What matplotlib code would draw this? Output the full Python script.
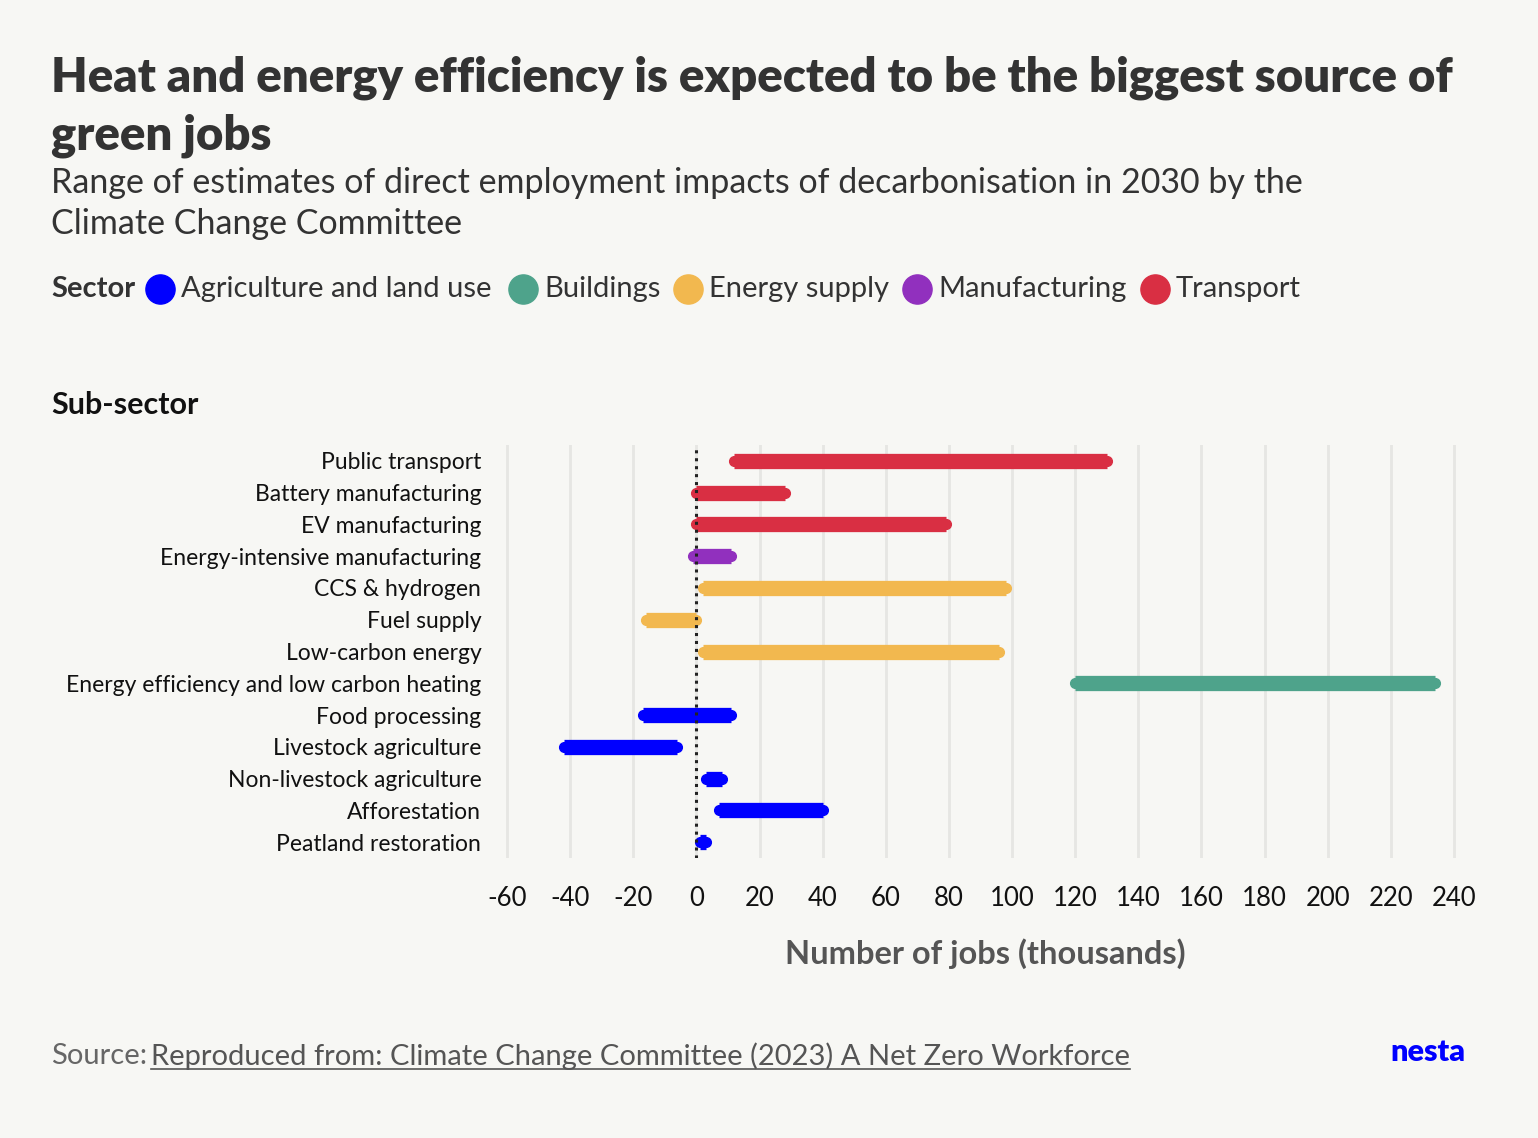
import matplotlib
matplotlib.use("Agg")
import matplotlib.pyplot as plt
from matplotlib.lines import Line2D

plt.rcParams['font.family'] = ['Lato', 'DejaVu Sans']

BG = '#f7f7f4'
TEXT = '#333333'
SECTOR_COLORS = {
    'Agriculture and land use': '#0000ff',
    'Buildings': '#4ea38b',
    'Energy supply': '#f2b84f',
    'Manufacturing': '#9130be',
    'Transport': '#d92f43',
}

# --- data (thousands of jobs, 2030) ---
subsectors = ['Public transport', 'Battery manufacturing', 'EV manufacturing',
              'Energy-intensive manufacturing', 'CCS & hydrogen', 'Fuel supply',
              'Low-carbon energy', 'Energy efficiency and low carbon heating',
              'Food processing', 'Livestock agriculture', 'Non-livestock agriculture',
              'Afforestation', 'Peatland restoration']
sectors = ['Transport', 'Transport', 'Transport', 'Manufacturing', 'Energy supply',
           'Energy supply', 'Energy supply', 'Buildings',
           'Agriculture and land use', 'Agriculture and land use',
           'Agriculture and land use', 'Agriculture and land use',
           'Agriculture and land use']
low = [12, 0, 0, -1, 2, -16, 2, 120, -17, -42, 3, 7, 1]
high = [130, 28, 79, 11, 98, 0, 96, 234, 11, -6, 8, 40, 3]
xticks = list(range(-60, 241, 20))

fig = plt.figure(figsize=(15.38, 11.38), dpi=100, facecolor=BG)
W, H = 1538, 1138

def fx(px):
    return px / W

def fy(py):
    return 1 - py / H

ax = fig.add_axes([fx(500.7), fy(858), fx(969.1), 413 / H])
ax.set_facecolor(BG)
n = len(subsectors)
for i, (lo, hi, s) in enumerate(zip(low, high, sectors)):
    y = n - 1 - i
    c = SECTOR_COLORS[s]
    ax.plot([lo, hi], [y, y], color=c, lw=11, solid_capstyle='butt', zorder=3)
    ax.plot([lo, hi], [y, y], 'o', color=c, ms=7, zorder=3)
ax.axvline(0, color='#222222', lw=2.2, ls=(0, (1, 1.6)), zorder=4)
ax.set_xlim(-62, 245)
ax.set_ylim(-0.5, n - 0.5)
ax.set_xticks(xticks)
ax.set_xticklabels([str(t) for t in xticks], fontsize=18.5, color='#111111')
ax.set_yticks(range(n))
ax.set_yticklabels(subsectors[::-1], fontsize=16.5, color='#111111')
ax.tick_params(length=0, pad=14)
ax.tick_params(axis='x', pad=20)
ax.grid(axis='x', color='#e6e6e3', lw=2, zorder=0)
for sp in ax.spines.values():
    sp.set_visible(False)
ax.set_xlabel('Number of jobs (thousands)', fontsize=23.5, fontweight='bold',
              color='#555555', labelpad=20)

# titles
fig.text(fx(51), fy(78), 'Heat and energy efficiency is expected to be the biggest source of',
         fontsize=34, fontweight='heavy', color=TEXT, va='center')
fig.text(fx(51), fy(136), 'green jobs', fontsize=34, fontweight='heavy', color=TEXT, va='center')
fig.text(fx(51), fy(183), 'Range of estimates of direct employment impacts of decarbonisation in 2030 by the',
         fontsize=24.5, color=TEXT, va='center')
fig.text(fx(51), fy(224), 'Climate Change Committee', fontsize=24.5, color=TEXT, va='center')

# legend
fig.text(fx(51), fy(289), 'Sector', fontsize=21, fontweight='bold', color=TEXT, va='center')
legend_x = [160, 523, 688, 917, 1155]
for px, (name, c) in zip(legend_x, SECTOR_COLORS.items()):
    fig.add_artist(Line2D([fx(px)], [fy(289)], marker='o', markersize=21,
                          color=c, transform=fig.transFigure))
    fig.text(fx(px + 21), fy(289), name, fontsize=21, color=TEXT, va='center')

fig.text(fx(51), fy(405), 'Sub-sector', fontsize=22, fontweight='bold', color='#111111', va='center')

# source
fig.text(fx(51), fy(1056), 'Source:', fontsize=21, color='#666666', va='center')
fig.text(fx(151), fy(1056), 'Reproduced from: Climate Change Committee (2023) A Net Zero Workforce',
         fontsize=21, color='#555555', va='center')
fig.add_artist(Line2D([fx(151), fx(1130)], [fy(1069), fy(1069)], color='#555555',
                      lw=1.2, transform=fig.transFigure))
fig.text(fx(1465), fy(1052), 'nesta', fontsize=22, fontweight='heavy', color='#0000ff',
         va='center', ha='right')

fig.savefig('out.png', dpi=100, facecolor=BG)
